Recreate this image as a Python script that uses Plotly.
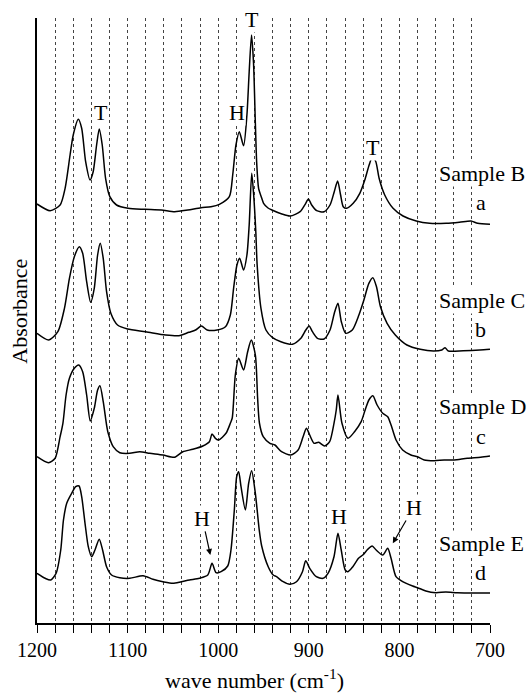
import plotly.graph_objects as go

# ---------------- data (wave number in cm^-1, absorbance in arbitrary units, stacked) ----
wn_B = [1200, 1185.5, 1174.5, 1169, 1163.5, 1160, 1154.4, 1150.7, 1146.3, 1141.5, 1138, 1134.2,
        1131.3, 1128, 1124.3, 1119.6, 1112.2, 1099.4, 1081, 1062.8, 1048, 1033.5, 1019, 1008,
        998.7, 987.7, 984, 980.4, 976.7, 972, 968.3, 965.8, 963.2, 961, 959, 957.5, 955.4, 952,
        949.9, 945, 940.7, 929.7, 920.6, 909.6, 904, 900.4, 896.8, 891.3, 883.2, 876.6, 871.9,
        868.2, 864.9, 862, 858.3, 851, 843.7, 838.2, 833.4, 829.7, 826, 822.4, 816.2, 807, 796,
        781.4, 766.7, 748.4, 733.8, 721, 713.6, 700]
ab_B = [419, 412.3, 418, 434.7, 468, 488, 503.7, 494.7, 461.3, 443, 451.3, 478,
        494, 478, 444.7, 426.3, 418, 414.7, 413.7, 413, 411.3, 413, 415.3, 416.3,
        418.7, 426.3, 448, 478, 491.3, 477.3, 508, 551.3, 588, 560, 500, 460, 434.7, 425,
        419.7, 415, 413, 409, 407, 411.3, 418.7, 424, 418, 412.3, 411.3, 418, 431.3,
        442, 428, 416.3, 414.7, 419.7, 429.7, 443, 458, 466.3, 461.3, 444.7, 428, 414.7, 407,
        402, 399.7, 399.7, 400.7, 402, 399.7, 398.7]

wn_C = [1200, 1187, 1177, 1169.7, 1164.2, 1158.8, 1153.3, 1149.6, 1145.2, 1140.8, 1136.8, 1133.1,
        1130.2, 1126.9, 1123.2, 1118.5, 1111.1, 1100.1, 1080, 1058, 1043.4, 1032.4, 1025, 1018.5,
        1012.2, 1001.2, 992, 986.6, 983, 979.3, 976.3, 972, 968.3, 965.8, 963, 961, 958.5, 957,
        952.8, 947.3, 940, 930.8, 918, 908.8, 903.3, 899.6, 896, 890.5, 883.2, 876.6, 871.4,
        867.8, 864.1, 859.3, 852, 844.7, 839.2, 833.7, 829.3, 825.3, 820.9, 813.6, 804.5, 791.7,
        777, 762.4, 753.2, 749.6, 746, 729.5, 711.2, 700]
ab_C = [289.7, 283, 291.3, 314.7, 344.7, 366.3, 376.3, 369.7, 341.3, 320.7, 334.7, 368,
        379.7, 364.7, 331.3, 309.7, 298, 294, 291.3, 288, 287.3, 290.7, 293, 297,
        293, 293, 296.3, 308, 334.7, 358, 364.7, 353, 368, 398, 449.7, 430, 391.3, 358,
        314.7, 293, 285.3, 281.3, 278.7, 284.7, 293, 297, 291.3, 284.7, 284, 293, 311.3,
        319.7, 301.3, 289.7, 293, 308, 323, 339.7, 345.3, 336.3, 316.3, 299.7, 288, 278,
        273.7, 272, 273, 275.3, 272, 272.3, 273, 273.7]

wn_D = [1200, 1187.3, 1180, 1174.5, 1171.4, 1167.9, 1164.2, 1158.8, 1154, 1149.6, 1145.2, 1141.2,
        1136.8, 1133.1, 1130.5, 1126.9, 1123.2, 1121.4, 1115.9, 1108.6, 1097.6, 1086.6, 1075.6,
        1061, 1048.1, 1039, 1028, 1017, 1009.7, 1006.8, 1003.1, 999.4, 991.4, 986.6, 984.5,
        981.1, 977.4, 972, 967.5, 963.5, 959, 956.5, 954.5, 950.3, 942.9, 937.4, 930.1, 919.9,
        911.8, 906.3, 902.6, 899, 894.2, 889.1, 882.5, 877, 872.2, 869.7, 867.8, 863.4, 856.8,
        849.5, 842.2, 837.8, 833.7, 829.3, 824.6, 818.4, 812.9, 809.2, 803.7, 796.4, 787.3, 780,
        772.6, 761.6, 750.6, 739.6, 725, 710.3, 700]
ab_D = [166.3, 160.3, 164.7, 186.3, 199.7, 228, 244.7, 254.7, 258, 251.3, 228, 202,
        214.7, 233, 237.3, 221.3, 198, 189.7, 176.3, 170.3, 169.7, 171.3, 169.7,
        168, 165.7, 171.3, 173.7, 177, 181.3, 189, 184.7, 183, 189.7, 199.7, 205,
        248, 264.7, 253, 271.3, 283, 268, 225, 200, 186.3, 179.7, 178, 171.3, 168,
        173, 186.3, 194.7, 188, 179.7, 180.7, 177, 181.3, 199.7, 213, 228, 199.7, 184.7,
        191.3, 201.3, 213, 223, 227.3, 218, 209.7, 206.3, 198, 183, 173, 168, 166.3,
        163, 162.3, 163, 163, 164.7, 165.7, 167]

wn_E = [1200, 1191, 1184.8, 1178.9, 1173.8, 1170.8, 1167.2, 1161.7, 1157.3, 1153.6, 1150.7, 1147,
        1143.4, 1139.7, 1136, 1131.3, 1127.6, 1123.2, 1117.7, 1108.6, 1097.6, 1082.9, 1072, 1061,
        1050, 1040.8, 1031.7, 1020.7, 1011.5, 1006.8, 1002.3, 996.8, 989.5, 985.9, 982.2, 979.6,
        977.4, 974.8, 970, 966.4, 963.1, 959, 954.7, 952, 944.8, 939.3, 935.6, 928.3, 921, 913.6,
        907, 903.4, 899, 891.7, 884.4, 878.8, 872.2, 867.8, 864.2, 859.8, 856.8, 851.4, 845.1,
        840.4, 834.9, 830.1, 825.7, 818.4, 812.9, 809.2, 803.7, 796.4, 785.4, 779.9, 770.8,
        759.8, 748.8, 736, 717.7, 700]
ab_E = [49.7, 44.7, 43, 49.7, 73, 103, 119.7, 129.7, 136.3, 137, 126.3, 99.7,
        76.3, 66.3, 73, 83.7, 73, 56.3, 48, 45.3, 44.7, 47.3, 43.7, 41.3,
        39.7, 41.3, 43, 44.7, 48, 59.7, 50.3, 51.3, 57, 73, 113, 146.3,
        151.3, 136.3, 113, 139.7, 152.3, 129.7, 93, 77, 56.3, 48, 46.3, 41.3, 38.7, 41.3,
        51.3, 62.3, 54.7, 46.3, 44.7, 49.7, 66.3, 89.7, 73, 53, 51.3, 56.3, 64.7,
        68, 73.7, 77, 73, 68, 74.7, 64.7, 46.3, 41.3, 37, 35.3, 32,
        30.3, 31, 30.3, 30, 30]

sample_names = ["Sample B", "Sample C", "Sample D", "Sample E"]
sample_letters = ["a", "b", "c", "d"]
name_levels = [450, 323, 217, 80]
letter_levels = [421, 294, 187, 51]

# band assignment labels: (text, wave number, level)
band_labels = [("T", 1129.7, 511), ("H", 979.3, 511), ("T", 962.7, 604), ("T", 829, 476),
               ("H", 866.3, 107)]
# arrowed labels: (text, text wn, text level, tip wn, tip level)
arrow_labels = [("H", 1017.5, 104.7, 1008.7, 68), ("H", 784.3, 115.5, 807.3, 79.7)]

FONT = "Liberation Serif, Times New Roman, serif"

fig = go.Figure()
for wn, ab in [(wn_B, ab_B), (wn_C, ab_C), (wn_D, ab_D), (wn_E, ab_E)]:
    fig.add_trace(go.Scatter(x=wn, y=ab, mode="lines",
                             line=dict(color="black", width=1.5, shape="spline", smoothing=0.7),
                             hoverinfo="skip"))

ann = []
for t, w, v in band_labels:
    ann.append(dict(x=w, y=v, xref="x", yref="y", text=t, showarrow=False,
                    font=dict(family=FONT, size=22, color="black"), bgcolor="white",
                    borderpad=0))
for t, w, v, tw, tv in arrow_labels:
    ann.append(dict(x=tw, y=tv, xref="x", yref="y", ax=w, ay=v, axref="x", ayref="y",
                    text=t, showarrow=True, arrowhead=2, arrowsize=1, arrowwidth=1.2,
                    arrowcolor="black", standoff=0, startstandoff=0,
                    font=dict(family=FONT, size=22, color="black"), bgcolor="white",
                    borderpad=0))
for name, lv in zip(sample_names, name_levels):
    ann.append(dict(x=757.4, y=lv, xref="x", yref="y", text=name, showarrow=False,
                    xanchor="left", yanchor="middle",
                    font=dict(family=FONT, size=22, color="black"),
                    bgcolor="white", borderpad=0))
for letter, lv in zip(sample_letters, letter_levels):
    ann.append(dict(x=710, y=lv, xref="x", yref="y", text=letter, showarrow=False,
                    xanchor="center", yanchor="middle",
                    font=dict(family=FONT, size=22, color="black"), bgcolor="white",
                    borderpad=0))
# axis titles
ann.append(dict(x=(254 - 37) / 453, y=-(679 - 623) / 605, xref="paper", yref="paper",
                xanchor="center", yanchor="middle",
                text="wave number (cm<sup>-1</sup>)", showarrow=False,
                font=dict(family=FONT, size=22, color="black")))
ann.append(dict(x=(20 - 37) / 453, y=(623 - 311.7) / 605, xref="paper", yref="paper",
                xanchor="center", yanchor="middle",
                text="Absorbance", showarrow=False, textangle=-90,
                font=dict(family=FONT, size=22, color="black")))

fig.update_layout(
    width=528, height=694,
    margin=dict(l=37, r=38, t=18, b=71),
    paper_bgcolor="white", plot_bgcolor="white",
    showlegend=False,
    annotations=ann,
    xaxis=dict(range=[1200, 700], tick0=700, dtick=100,
               ticks="outside", ticklen=8, tickwidth=1.2, tickcolor="black",
               showline=True, linewidth=1.6, linecolor="black",
               showgrid=True, griddash="dot", gridcolor="#444", gridwidth=1,
               minor=dict(dtick=20, tick0=700, ticks="outside", ticklen=8, tickwidth=1.2,
                          tickcolor="black", showgrid=True, griddash="dot",
                          gridcolor="#444", gridwidth=1),
               zeroline=False, ticklabelstandoff=0, automargin=False,
               tickfont=dict(family=FONT, size=20, color="black")),
    yaxis=dict(range=[0, 605], showline=True, linewidth=1.6, linecolor="black",
               showticklabels=False, ticks="", showgrid=False, zeroline=False,
               automargin=False),
)

fig.write_html("out.html", config={"displayModeBar": False},
               post_script="document.body.style.margin='0';document.body.style.padding='0';")
